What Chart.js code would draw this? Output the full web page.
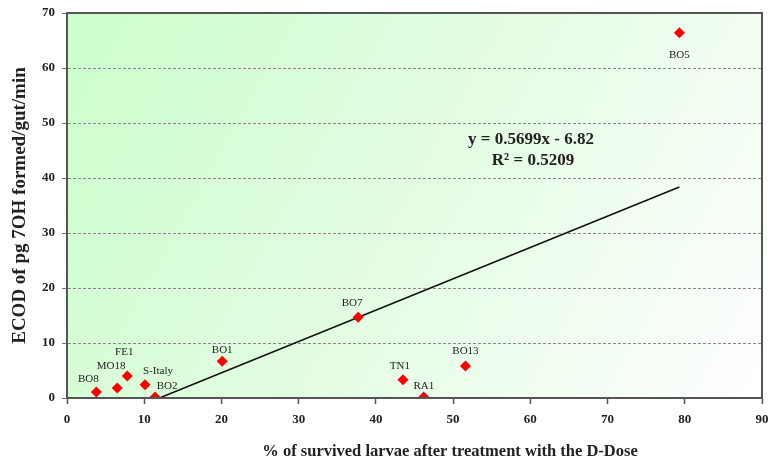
<!DOCTYPE html>
<html>
<head>
<meta charset="utf-8">
<script src="https://cdn.jsdelivr.net/npm/chart.js@4/dist/chart.umd.min.js"></script>
<style>
  html, body { margin: 0; padding: 0; background: #fff; }
  #wrap { width: 772px; height: 463px; }
</style>
</head>
<body>
<div id="wrap"><canvas id="myChart" width="772" height="463"></canvas></div>
<script>
// strain data
const strains = ["BO8", "MO18", "FE1", "S-Italy", "BO2", "BO1", "BO7", "TN1", "RA1", "BO13", "BO5"];
const survived = [3.8, 6.5, 7.8, 10.1, 11.4, 20.1, 37.7, 43.5, 46.2, 51.6, 79.3];
const ecod = [1.1, 1.8, 4.0, 2.4, 0.2, 6.7, 14.7, 3.3, 0.2, 5.8, 66.4];
const xTicks = [0, 10, 20, 30, 40, 50, 60, 70, 80, 90];
const yTicks = [0, 10, 20, 30, 40, 50, 60, 70];

// linear trend shown on the chart
const slope = 0.5699;
const intercept = -6.82;
const trendFrom = 11.97;
const trendTo = 79.3;

// label offsets in px, relative to each point
const labelDx = [-8, -6, -3, 13, 12, 0, -6, -3, 0, 0, 0];
const labelDy = [-13, -22, -24, -14, -11, -11, -14, -14, -11, -15, 22];

const serif = "'Liberation Serif', 'Times New Roman', serif";

const bgPlugin = {
  id: "bg",
  beforeDraw(chart) {
    const { ctx, chartArea: a } = chart;
    const g = ctx.createLinearGradient(a.left, a.top, a.right, a.bottom);
    g.addColorStop(0, "#ccffcc");
    g.addColorStop(0.5, "#e3fce3");
    g.addColorStop(1, "#ffffff");
    ctx.save();
    ctx.fillStyle = g;
    ctx.fillRect(a.left, a.top, a.right - a.left, a.bottom - a.top);
    ctx.restore();
  },
  afterDraw(chart) {
    const { ctx, chartArea: a, scales } = chart;
    ctx.save();
    // frame
    ctx.strokeStyle = "#555";
    ctx.lineWidth = 2;
    ctx.strokeRect(a.left, a.top, a.right - a.left, a.bottom - a.top);

    // point labels
    ctx.font = "11px " + serif;
    ctx.fillStyle = "#222";
    ctx.textAlign = "center";
    ctx.textBaseline = "middle";
    strains.forEach((s, i) => {
      const px = scales.x.getPixelForValue(survived[i]);
      const py = scales.y.getPixelForValue(ecod[i]);
      ctx.fillText(s, px + labelDx[i], py + labelDy[i]);
    });

    // equation
    ctx.font = "bold 17px " + serif;
    ctx.fillText("y = " + slope + "x - " + Math.abs(intercept).toFixed(2), 531, 140);
    ctx.fillText("R\u00b2 = 0.5209", 533, 161);

    // x axis title
    ctx.font = "bold 16.5px " + serif;
    ctx.fillText("% of survived larvae after treatment with the D-Dose", 450, 452);
    ctx.restore();
  }
};

const ctx = document.getElementById("myChart");
new Chart(ctx, {
  type: "scatter",
  data: {
    datasets: [
      {
        label: "strains",
        data: survived.map((x, i) => ({ x: x, y: ecod[i] })),
        pointStyle: "rectRot",
        pointRadius: 5.5,
        backgroundColor: "#ff0000",
        borderColor: "#ff0000",
        borderWidth: 0,
      },
      {
        type: "line",
        label: "trend",
        data: [
          { x: trendFrom, y: slope * trendFrom + intercept },
          { x: trendTo, y: slope * trendTo + intercept },
        ],
        borderColor: "#111",
        borderWidth: 1.6,
        pointRadius: 0,
        fill: false,
      },
    ],
  },
  options: {
    responsive: false,
    animation: false,
    layout: { padding: { left: 0, right: 10, top: 13, bottom: 0 } },
    plugins: { legend: { display: false }, tooltip: { enabled: false } },
    scales: {
      x: {
        type: "linear",
        min: 0,
        max: 90,
        afterBuildTicks: (s) => { s.ticks = xTicks.map((v) => ({ value: v })); },
        afterFit: (s) => { s.height = 65; s.paddingLeft = 0; s.paddingRight = 0; },
        grid: { drawOnChartArea: false, drawTicks: true, tickLength: 6, tickColor: "#555", tickWidth: 1.5 },
        border: { display: true, color: "#555", width: 2 },
        ticks: { font: { family: serif, size: 13, weight: "bold" }, color: "#222", padding: 8, maxRotation: 0 },
      },
      y: {
        type: "linear",
        min: 0,
        max: 70,
        afterBuildTicks: (s) => { s.ticks = yTicks.map((v) => ({ value: v })); },
        afterFit: (s) => { s.width = 67; s.paddingTop = 0; s.paddingBottom = 0; },
        grid: { color: "#888", lineWidth: 1, drawTicks: true, tickLength: 5, tickColor: "#777", tickBorderDash: [] },
        border: { display: true, color: "#555", width: 2, dash: [3, 2] },
        ticks: { font: { family: serif, size: 13, weight: "bold" }, color: "#222", padding: 7 },
        title: {
          display: true,
          text: "ECOD of pg 7OH formed/gut/min",
          font: { family: serif, size: 19, weight: "bold" },
          color: "#222",
          padding: { top: 9, bottom: 0 },
        },
      },
    },
  },
  plugins: [bgPlugin],
});
</script>
</body>
</html>
